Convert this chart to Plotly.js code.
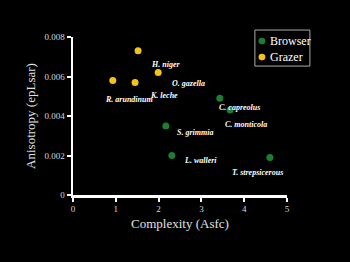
<!DOCTYPE html>
<html><head><meta charset="utf-8">
<script src="https://cdn.plot.ly/plotly-3.0.1.min.js"></script>
<style>html,body{margin:0;padding:0;background:#000;}#chart{width:350px;height:262px;}</style>
</head><body><div id="chart"></div>
<script>
var browserX = [3.43, 3.67, 2.17, 2.31, 4.60];
var browserY = [0.0049, 0.0043, 0.0035, 0.0020, 0.0019];
var grazerX = [1.52, 0.93, 1.45, 1.99];
var grazerY = [0.0073, 0.0058, 0.0057, 0.0062];
var seriesNames = ["Browser", "Grazer"];
var seriesColors = ["#1e7d32", "#f2c318"];
var labelNames = ["H. niger", "O. gazella", "K. leche", "R. arundinum", "C. capreolus", "C. monticola", "S. grimmia", "L. walleri", "T. strepsicerous"];
var labelX = [2.17, 2.69, 2.13, 1.31, 3.90, 4.04, 2.85, 2.97, 4.30];
var labelY = [0.00663, 0.00567, 0.00506, 0.00486, 0.00441, 0.00359, 0.00319, 0.00177, 0.00116];
var yTicks = [0, 0.002, 0.004, 0.006, 0.008];
var yTickText = ["0", "0.002", "0.004", "0.006", "0.008"];
var xTicks = [0, 1, 2, 3, 4, 5];

var serif = "Liberation Serif, Times New Roman, serif";
var traces = [
  {x: browserX, y: browserY, type: "scatter", mode: "markers", name: seriesNames[0],
   marker: {color: seriesColors[0], size: 7}},
  {x: grazerX, y: grazerY, type: "scatter", mode: "markers", name: seriesNames[1],
   marker: {color: seriesColors[1], size: 7}}
];
var annotations = labelNames.map(function(n, i) {
  return {x: labelX[i], y: labelY[i], xref: "x", yref: "y", text: "<b><i>" + n + "</i></b>",
          showarrow: false, font: {family: serif, size: 8, color: "#ffffff"}};
});
// compact legend box (paper coordinates)
var shapes = [{type: "rect", xref: "paper", yref: "paper", x0: 0.850, x1: 1.107, y0: 0.816, y1: 1.044,
  line: {color: "#aaaaaa", width: 1}, fillcolor: "#000000"}];
var legY = [0.975, 0.873];
seriesNames.forEach(function(n, i) {
  shapes.push({type: "circle", xref: "paper", yref: "paper", x0: 0.867, x1: 0.899,
    y0: legY[i] - 0.021, y1: legY[i] + 0.021, fillcolor: seriesColors[i], line: {width: 0}});
  annotations.push({x: 0.911, y: legY[i], xref: "paper", yref: "paper", xanchor: "left", yanchor: "middle",
    text: n, showarrow: false, font: {family: serif, size: 12, color: "#ffffff"}});
});
var axisCommon = {showgrid: false, zeroline: false, showline: true, linecolor: "#ffffff", linewidth: 2.5,
  ticks: "outside", tickcolor: "#ffffff", tickwidth: 2, ticklen: 4,
  tickfont: {family: serif, size: 9, color: "#d8d8d8"}};
var layout = {
  width: 350, height: 262,
  paper_bgcolor: "#000000", plot_bgcolor: "#000000",
  margin: {l: 73, r: 63, t: 37, b: 67},
  showlegend: false,
  xaxis: Object.assign({}, axisCommon, {range: [0, 5], tickvals: xTicks,
    title: {text: "Complexity (Asfc)", font: {family: serif, size: 13, color: "#e0e0e0"}, standoff: 6}}),
  yaxis: Object.assign({}, axisCommon, {range: [0, 0.008], tickvals: yTicks, ticktext: yTickText,
    title: {text: "Anisotropy (epLsar)", font: {family: serif, size: 13, color: "#e0e0e0"}, standoff: 6}}),
  annotations: annotations,
  shapes: shapes
};
Plotly.newPlot("chart", traces, layout, {displayModeBar: false, staticPlot: true});
</script></body></html>
